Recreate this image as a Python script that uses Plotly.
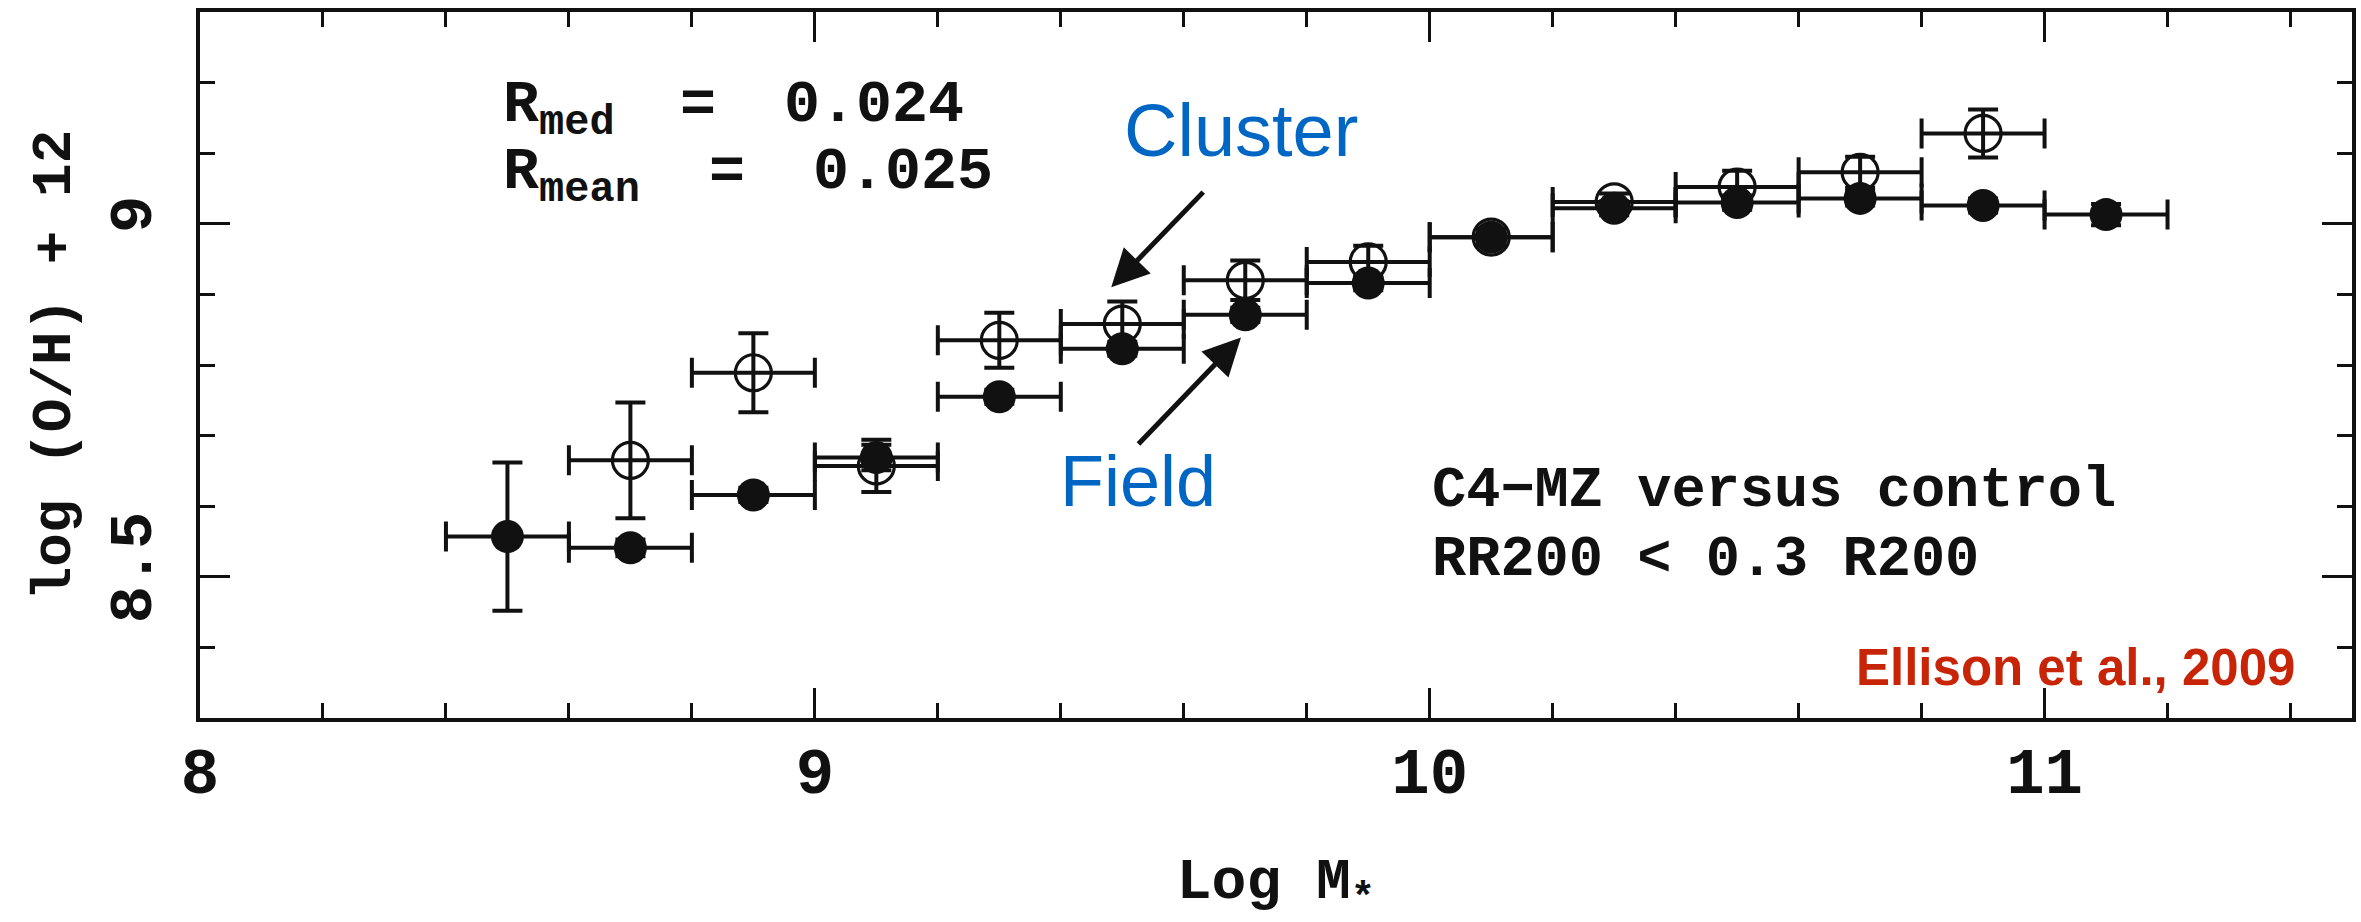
import plotly.graph_objects as go

# ---- data ----
mass_field = [8.5, 8.7, 8.9, 9.1, 9.3, 9.5, 9.7, 9.9, 10.1, 10.3, 10.5, 10.7, 10.9, 11.1]
oh_field = [8.557, 8.541, 8.616, 8.669, 8.755, 8.823, 8.871, 8.916, 8.981, 9.022, 9.030, 9.036, 9.026, 9.013]
err_field = [0.105, 0.012, 0.010, 0.018, 0.010, 0.010, 0.010, 0.010, 0.012, 0.010, 0.010, 0.010, 0.010, 0.015]

mass_cluster = [8.7, 8.9, 9.1, 9.3, 9.5, 9.7, 9.9, 10.1, 10.3, 10.5, 10.7, 10.9]
oh_cluster = [8.665, 8.789, 8.657, 8.835, 8.858, 8.920, 8.946, 8.981, 9.031, 9.052, 9.073, 9.128]
err_cluster = [0.082, 0.056, 0.037, 0.039, 0.032, 0.028, 0.023, 0.010, 0.012, 0.023, 0.022, 0.034]

bin_half_field = [0.1] * len(mass_field)
bin_half_cluster = [0.1] * len(mass_cluster)

x_range = [8, 11.5]
y_range = [8.3, 9.3]

MONO = "Liberation Mono, Courier New, monospace"
SANS = "Liberation Sans, Arial, Helvetica, sans-serif"
INK = "#111111"

fig = go.Figure()

fig.add_trace(go.Scatter(
    x=mass_cluster, y=oh_cluster, mode="markers", name="Cluster",
    marker=dict(symbol="circle-open", size=36, color=INK, line=dict(width=3.2, color=INK)),
    error_y=dict(type="data", array=err_cluster, thickness=4, width=15, color=INK),
    error_x=dict(type="data", array=bin_half_cluster, thickness=4, width=15, color=INK),
    showlegend=False,
))

fig.add_trace(go.Scatter(
    x=mass_field, y=oh_field, mode="markers", name="Field",
    marker=dict(symbol="circle", size=33, color=INK, line=dict(width=0)),
    error_y=dict(type="data", array=err_field, thickness=4, width=15, color=INK),
    error_x=dict(type="data", array=bin_half_field, thickness=4, width=15, color=INK),
    showlegend=False,
))

axis_common = dict(
    showline=True, linewidth=4, linecolor=INK, mirror="allticks",
    ticks="inside", tickwidth=3, tickcolor=INK,
    showgrid=False, zeroline=False, automargin=False,
)

fig.update_xaxes(
    range=x_range, tick0=8, dtick=1, ticklen=30,
    minor=dict(ticks="inside", dtick=0.2, ticklen=15, tickwidth=3, tickcolor=INK, showgrid=False),
    tickfont=dict(family=MONO, size=64, color=INK, weight="bold"),
    ticklabelstandoff=-6,
    title=dict(text="<b>Log M<sub>*</sub></b>", font=dict(family=MONO, size=58, color=INK), standoff=112),
    **axis_common,
)
fig.update_yaxes(
    range=y_range, tick0=8.5, dtick=0.5, ticklen=30,
    minor=dict(ticks="inside", dtick=0.1, ticklen=15, tickwidth=3, tickcolor=INK, showgrid=False),
    tickfont=dict(family=MONO, size=62, color=INK, weight="bold"),
    tickangle=-90, ticklabelstandoff=20,
    title=dict(text="<b>log (O/H) + 12</b>", font=dict(family=MONO, size=56, color=INK), standoff=12),
    **axis_common,
)

annots = []
# R statistics
for lab, eqx, val, valx, yy in [
    ("<b>R<sub>med</sub></b>", 8.81, "<b>0.024</b>", 8.947, 9.162),
    ("<b>R<sub>mean</sub></b>", 8.857, "<b>0.025</b>", 8.993, 9.068),
]:
    annots.append(dict(x=8.49, y=yy, xref="x", yref="y", text=lab, showarrow=False,
                       xanchor="left", yanchor="middle", font=dict(family=MONO, size=60, color=INK)))
    annots.append(dict(x=eqx, y=yy + 0.006, xref="x", yref="y", text="<b>=</b>", showarrow=False,
                       xanchor="center", yanchor="middle", font=dict(family=MONO, size=60, color=INK)))
    annots.append(dict(x=valx, y=yy + 0.006, xref="x", yref="y", text=val, showarrow=False,
                       xanchor="left", yanchor="middle", font=dict(family=MONO, size=60, color=INK)))

annots += [
    dict(x=10.0, y=8.622, xref="x", yref="y", text="<b>C4\u2212MZ versus control</b>", showarrow=False,
         xanchor="left", yanchor="middle", font=dict(family=MONO, size=57, color=INK)),
    dict(x=10.0, y=8.524, xref="x", yref="y", text="<b>RR200 < 0.3 R200</b>", showarrow=False,
         xanchor="left", yanchor="middle", font=dict(family=MONO, size=57, color=INK)),
    dict(x=11.41, y=8.372, xref="x", yref="y", text="<b>Ellison et al., 2009</b>", showarrow=False,
         xanchor="right", yanchor="middle", font=dict(family=SANS, size=51, color="#C82408")),
    dict(x=9.50, y=9.132, xref="x", yref="y", text="Cluster", showarrow=False,
         xanchor="left", yanchor="middle", font=dict(family=SANS, size=74, color="#0066C4")),
    dict(x=9.395, y=8.636, xref="x", yref="y", text="Field", showarrow=False,
         xanchor="left", yanchor="middle", font=dict(family=SANS, size=72, color="#0066C4")),
    # arrows
    dict(x=9.482, y=8.910, ax=9.634, ay=9.047, xref="x", yref="y", axref="x", ayref="y",
         text="", showarrow=True, arrowhead=2, arrowsize=1.5, arrowwidth=5, arrowcolor=INK),
    dict(x=9.693, y=8.839, ax=9.524, ay=8.686, xref="x", yref="y", axref="x", ayref="y",
         text="", showarrow=True, arrowhead=2, arrowsize=1.5, arrowwidth=5, arrowcolor=INK),
]

fig.update_layout(
    width=2361, height=922,
    margin=dict(l=200, r=9, t=12, b=204),
    paper_bgcolor="white", plot_bgcolor="white",
    annotations=annots,
)

fig.write_html("out.html")
